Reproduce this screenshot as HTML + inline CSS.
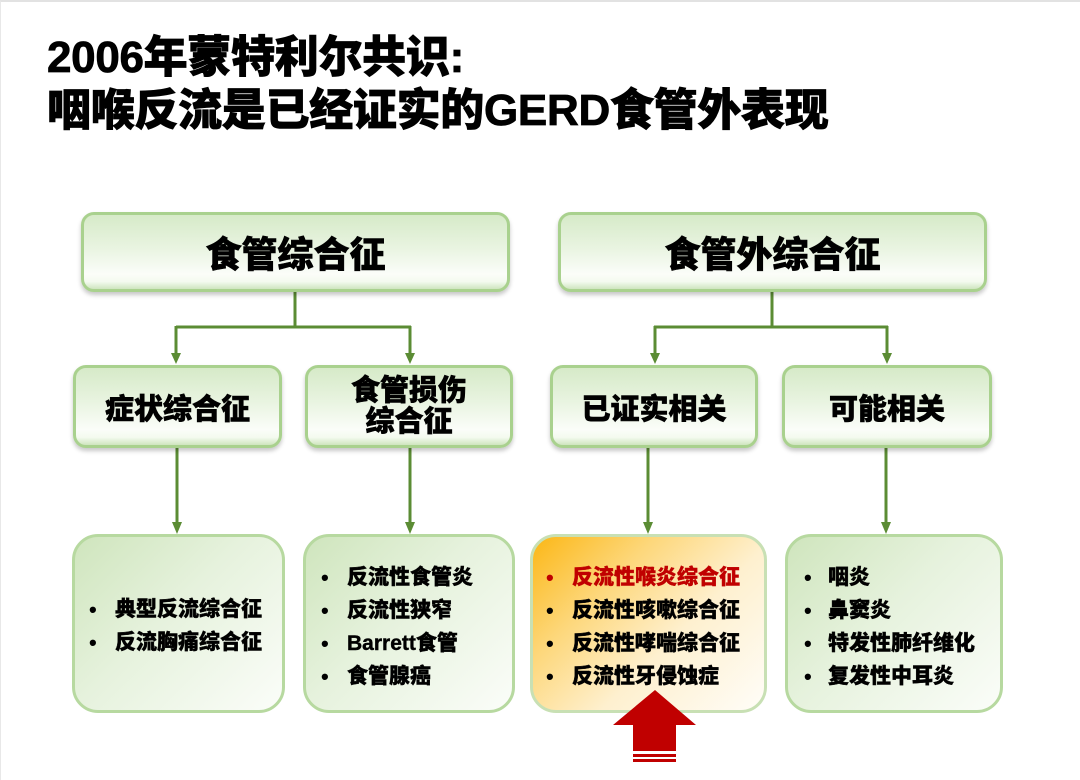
<!DOCTYPE html>
<html><head><meta charset="utf-8">
<style>
html,body{margin:0;padding:0;}
body{width:1080px;height:780px;position:relative;overflow:hidden;background:#fff;
font-family:"Liberation Sans","Noto Sans CJK SC","WenQuanYi Zen Hei",sans-serif;color:#000;}
.frame{position:absolute;left:0;top:0;width:1080px;height:780px;box-sizing:border-box;border-top:2px solid #e2e2e2;border-left:1px solid #e8e8e8;}
.title{position:absolute;left:47px;font-size:44px;font-weight:900;line-height:52px;white-space:nowrap;letter-spacing:-0.3px;-webkit-text-stroke:0.8px #000;}
.b1{position:absolute;box-sizing:border-box;border:3px solid #a9d18e;border-radius:13px;
background:linear-gradient(to bottom,#d6eac8 0%,#e9f4e1 45%,#fbfdf9 80%,#f4faef 90%,#cfe5bf 100%);
box-shadow:0 3px 4px rgba(0,0,0,0.22);display:flex;align-items:center;justify-content:center;text-align:center;font-weight:900;-webkit-text-stroke:0.6px #000;}
.b3{position:absolute;box-sizing:border-box;border:3px solid #b7d9a0;border-radius:26px;
background:linear-gradient(135deg,#cfe5bd 0%,#e6f2dd 45%,#fbfdf9 100%);}
.b3.or{border-color:#c8e0b4;background:linear-gradient(135deg,#fbb716 0%,#fdd77a 30%,#fef0cf 60%,#fffdf8 100%);}
.li{position:absolute;font-size:21px;font-weight:900;line-height:33px;white-space:nowrap;-webkit-text-stroke:0.4px currentColor;}
.bu{position:absolute;font-size:22px;font-weight:900;line-height:33px;}
</style></head><body>
<div class="frame"></div>
<div class="title" style="top:32px;">2006年蒙特利尔共识:</div>
<div class="title" style="top:85px;">咽喉反流是已经证实的GERD食管外表现</div>

<svg width="1080" height="780" style="position:absolute;left:0;top:0;" xmlns="http://www.w3.org/2000/svg">
<g stroke="#5b8c34" stroke-width="3" fill="none">
<path d="M295 292 V327 M176 327 H411 M176 326 V355 M410 326 V355"/>
<path d="M772 292 V327 M654 327 H888 M655 326 V355 M887 326 V355"/>
<path d="M177 448 V525 M410 448 V525 M648 448 V525 M886 448 V525"/>
</g>
<g fill="#5b8c34">
<polygon points="171,353 181,353 176,364"/>
<polygon points="405,353 415,353 410,364"/>
<polygon points="650,353 660,353 655,364"/>
<polygon points="882,353 892,353 887,364"/>
<polygon points="172,522 182,522 177,534"/>
<polygon points="405,522 415,522 410,534"/>
<polygon points="643,522 653,522 648,534"/>
<polygon points="881,522 891,522 886,534"/>
</g>
</svg>

<div class="b1" style="left:81px;top:212px;width:429px;height:80px;font-size:36px;">食管综合征</div>
<div class="b1" style="left:558px;top:212px;width:429px;height:80px;font-size:36px;">食管外综合征</div>

<div class="b1" style="left:73px;top:365px;width:209px;height:83px;font-size:29px;">症状综合征</div>
<div class="b1" style="left:305px;top:365px;width:208px;height:83px;font-size:29px;line-height:31px;">食管损伤<br>综合征</div>
<div class="b1" style="left:550px;top:365px;width:208px;height:83px;font-size:29px;">已证实相关</div>
<div class="b1" style="left:782px;top:365px;width:210px;height:83px;font-size:29px;">可能相关</div>

<div class="b3" style="left:72px;top:534px;width:213px;height:179px;"></div>
<div class="b3" style="left:303px;top:534px;width:212px;height:179px;"></div>
<div class="b3 or" style="left:530px;top:534px;width:237px;height:179px;"></div>
<div class="b3" style="left:785px;top:534px;width:218px;height:179px;"></div>

<!-- box 1 -->
<div class="bu" style="left:89px;top:593px;">•</div><div class="li" style="left:115px;top:593px;">典型反流综合征</div>
<div class="bu" style="left:89px;top:626px;">•</div><div class="li" style="left:115px;top:626px;">反流胸痛综合征</div>
<!-- box 2 -->
<div class="bu" style="left:321px;top:561px;">•</div><div class="li" style="left:347px;top:561px;">反流性食管炎</div>
<div class="bu" style="left:321px;top:594px;">•</div><div class="li" style="left:347px;top:594px;">反流性狭窄</div>
<div class="bu" style="left:321px;top:627px;">•</div><div class="li" style="left:347px;top:627px;">Barrett食管</div>
<div class="bu" style="left:321px;top:660px;">•</div><div class="li" style="left:347px;top:660px;">食管腺癌</div>
<!-- box 3 -->
<div class="bu" style="left:546px;top:561px;color:#c00000;">•</div><div class="li" style="left:572px;top:561px;color:#c00000;">反流性喉炎综合征</div>
<div class="bu" style="left:546px;top:594px;">•</div><div class="li" style="left:572px;top:594px;">反流性咳嗽综合征</div>
<div class="bu" style="left:546px;top:627px;">•</div><div class="li" style="left:572px;top:627px;">反流性哮喘综合征</div>
<div class="bu" style="left:546px;top:660px;">•</div><div class="li" style="left:572px;top:660px;">反流性牙侵蚀症</div>
<!-- box 4 -->
<div class="bu" style="left:804px;top:561px;">•</div><div class="li" style="left:828px;top:561px;">咽炎</div>
<div class="bu" style="left:804px;top:594px;">•</div><div class="li" style="left:828px;top:594px;">鼻窦炎</div>
<div class="bu" style="left:804px;top:627px;">•</div><div class="li" style="left:828px;top:627px;">特发性肺纤维化</div>
<div class="bu" style="left:804px;top:660px;">•</div><div class="li" style="left:828px;top:660px;">复发性中耳炎</div>

<svg width="1080" height="780" style="position:absolute;left:0;top:0;" xmlns="http://www.w3.org/2000/svg">
<polygon points="655,690 696,725 676,725 676,751 633,751 633,725 613,725" fill="#c00000"/>
<rect x="633" y="754" width="43" height="3" fill="#c00000"/>
<rect x="633" y="759" width="43" height="3" fill="#c00000"/>
</svg>
</body></html>
